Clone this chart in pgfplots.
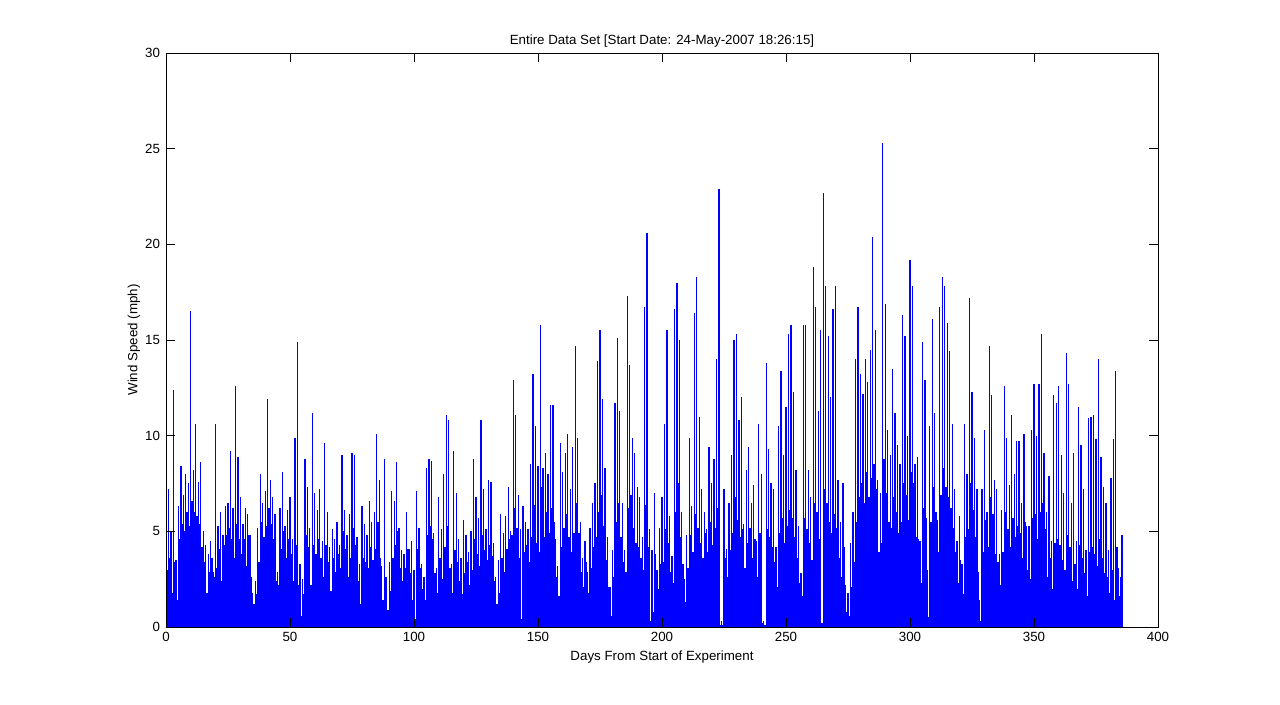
\documentclass[border=0pt]{standalone}
\usepackage{fontspec}
\setmainfont{Liberation Sans}
\usepackage{pgfplots}
\pgfplotsset{compat=1.18}
\begin{document}
\begin{tikzpicture}
\path[use as bounding box] (-124.5pt,-58.5pt) rectangle (835.5pt,470.25pt);
\begin{axis}[
 at={(0pt,0pt)}, anchor=south west,
 scale only axis, width=744pt, height=430.5pt,
 xmin=0, xmax=400, ymin=0, ymax=30,
 xtick={0,50,...,400}, ytick={0,5,...,30},
 tick align=inside, major tick length=7pt,
 tick style={black, line width=0.5pt},
 axis line style={black, line width=0.5pt},
 axis on top,
 font=\fontsize{10pt}{12pt}\selectfont,
 /pgf/number format/assume math mode=true,
 title={Entire Data Set [Start Date: 24-May-2007 18:26:15]},
 xlabel={Days From Start of Experiment},
 ylabel={Wind Speed (mph)},
 title style={at={(axis description cs:0.5,1)}, anchor=base, yshift=0pt},
 xlabel style={at={(axis description cs:0.5,0)}, anchor=base, yshift=-25.5pt},
 ylabel style={at={(axis description cs:-0.0289,0.5)}, anchor=base},
 yticklabel style={xshift=-1pt},
]
\addplot[ycomb, color={rgb,1:red,0;green,0;blue,1}, line width=0.95pt, mark=none]
 table[row sep=\\, header=false, x expr=\coordindex*0.5, y index=0]{
4.2\\3.0\\7.2\\3.6\\5.0\\1.8\\12.4\\3.4\\3.5\\1.4\\6.3\\4.6\\8.4\\5.4\\6.9\\5.0\\8.0\\6.0\\7.5\\5.3\\
16.5\\6.6\\8.2\\6.0\\10.6\\5.8\\7.6\\5.4\\8.6\\4.2\\5.0\\3.4\\4.3\\1.8\\3.8\\2.9\\4.5\\3.6\\2.9\\2.6\\
10.6\\3.1\\5.3\\4.1\\6.0\\2.4\\4.8\\4.3\\6.3\\4.8\\6.5\\5.2\\9.2\\4.6\\6.2\\3.6\\12.6\\5.4\\8.9\\4.6\\
6.8\\3.8\\5.4\\4.6\\6.2\\3.2\\5.9\\4.8\\4.8\\2.6\\1.8\\1.2\\2.4\\1.7\\5.2\\3.4\\8.0\\5.5\\6.5\\4.7\\
7.1\\5.3\\11.9\\6.2\\7.7\\5.4\\6.8\\4.6\\5.9\\2.4\\2.9\\2.2\\6.2\\4.1\\8.1\\5.0\\5.3\\3.6\\6.1\\4.6\\
6.8\\3.8\\4.6\\2.4\\9.9\\4.3\\14.9\\2.2\\3.3\\0.6\\2.5\\1.7\\8.8\\4.8\\7.3\\4.2\\5.2\\2.2\\11.2\\4.3\\
7.0\\3.8\\6.1\\4.6\\7.2\\3.6\\4.5\\2.6\\9.6\\4.3\\6.0\\3.4\\4.2\\1.9\\5.1\\3.6\\4.6\\2.9\\5.5\\3.8\\
4.3\\3.1\\9.0\\5.0\\6.1\\4.1\\4.8\\2.6\\5.9\\3.6\\9.1\\5.2\\9.0\\4.3\\4.7\\2.4\\3.3\\1.2\\6.3\\3.6\\
5.4\\3.4\\4.8\\3.1\\6.6\\4.2\\5.5\\3.5\\6.0\\4.1\\10.1\\5.5\\7.7\\3.6\\3.2\\1.4\\8.8\\2.6\\2.6\\0.9\\
3.4\\1.9\\7.1\\3.6\\6.6\\4.3\\8.6\\5.0\\5.2\\3.1\\4.0\\2.4\\3.8\\3.1\\6.0\\4.1\\4.1\\2.8\\4.5\\1.4\\
3.0\\0.4\\7.1\\4.1\\5.2\\3.1\\3.3\\2.0\\2.6\\1.4\\8.3\\4.8\\8.8\\5.3\\8.7\\4.6\\4.9\\2.8\\3.1\\1.8\\
6.8\\3.6\\5.1\\2.5\\8.0\\4.2\\11.1\\5.3\\10.8\\3.1\\3.3\\1.8\\9.2\\4.0\\7.0\\3.4\\4.6\\2.4\\3.6\\1.7\\
5.6\\2.8\\4.8\\3.4\\3.9\\2.2\\5.0\\3.0\\8.8\\4.6\\6.8\\3.8\\5.7\\3.2\\10.8\\4.8\\7.2\\4.0\\5.1\\3.5\\
7.7\\4.3\\7.6\\3.7\\4.4\\2.4\\2.6\\1.2\\3.5\\1.8\\5.9\\3.6\\4.9\\2.9\\5.8\\4.1\\7.3\\4.6\\5.0\\4.8\\
12.9\\6.2\\11.1\\5.2\\6.9\\3.6\\5.1\\0.4\\6.3\\3.9\\5.5\\4.3\\5.1\\3.4\\8.5\\4.7\\13.2\\6.4\\10.5\\4.4\\
8.4\\3.9\\15.8\\7.3\\8.3\\4.7\\9.1\\6.0\\8.0\\4.9\\11.6\\6.2\\11.6\\5.5\\4.6\\2.6\\3.2\\1.6\\9.6\\4.2\\
8.1\\5.2\\9.1\\5.9\\10.1\\4.7\\7.2\\3.9\\9.4\\4.9\\14.7\\6.5\\9.9\\4.9\\5.5\\2.9\\3.6\\2.1\\4.5\\3.4\\
2.9\\1.8\\5.2\\3.1\\6.5\\4.2\\7.5\\4.7\\13.9\\6.0\\15.5\\6.9\\11.9\\5.3\\8.3\\3.5\\4.7\\2.1\\2.1\\0.6\\
4.0\\2.6\\11.7\\5.5\\15.1\\6.5\\11.3\\4.7\\6.5\\3.4\\4.0\\2.9\\17.3\\6.2\\13.7\\6.9\\9.9\\5.2\\9.1\\4.4\\
7.3\\4.2\\6.8\\3.6\\4.7\\3.0\\16.7\\6.4\\20.6\\4.2\\5.1\\0.3\\4.0\\0.8\\7.0\\3.8\\3.0\\2.0\\5.2\\3.3\\
6.8\\3.4\\10.6\\5.1\\15.5\\4.4\\5.8\\2.9\\3.7\\2.3\\16.6\\6.0\\18.0\\7.5\\15.0\\4.7\\6.0\\3.3\\2.5\\1.3\\
4.8\\3.1\\9.9\\4.8\\6.3\\3.9\\16.4\\5.9\\18.3\\5.2\\11.0\\4.4\\7.2\\3.6\\6.0\\4.9\\5.1\\3.9\\9.4\\5.5\\
7.5\\4.3\\8.8\\5.2\\14.0\\6.2\\22.9\\0.1\\0.3\\0.1\\7.2\\3.6\\4.1\\2.6\\6.5\\4.0\\9.0\\4.9\\15.0\\6.8\\
15.3\\5.6\\10.8\\4.7\\12.0\\5.1\\5.4\\3.1\\8.2\\4.4\\9.4\\5.2\\6.5\\3.6\\7.4\\4.6\\4.5\\2.6\\10.6\\4.9\\
8.0\\0.2\\0.3\\0.1\\13.8\\5.1\\9.3\\4.7\\7.5\\4.2\\7.2\\3.4\\4.2\\2.1\\10.5\\4.9\\13.4\\5.7\\9.0\\4.4\\
11.5\\5.3\\15.3\\6.1\\15.8\\5.7\\12.3\\4.7\\8.2\\3.6\\5.3\\2.3\\2.8\\1.6\\15.8\\5.7\\15.8\\5.1\\8.2\\4.4\\
6.8\\3.5\\18.8\\6.5\\16.7\\6.0\\11.3\\4.6\\15.5\\0.2\\22.7\\7.2\\17.8\\6.5\\15.2\\5.5\\12.0\\4.9\\16.6\\5.9\\
17.8\\5.2\\7.7\\3.6\\5.5\\2.6\\7.5\\4.2\\2.2\\0.8\\1.8\\0.6\\4.4\\2.1\\6.0\\3.4\\14.0\\5.5\\16.7\\6.8\\
13.2\\7.5\\12.2\\6.5\\14.0\\8.1\\12.8\\6.8\\14.5\\7.8\\20.4\\8.5\\15.5\\7.2\\7.7\\3.9\\7.0\\4.4\\25.3\\8.8\\
16.9\\7.0\\10.3\\5.5\\9.0\\5.2\\13.5\\6.8\\11.2\\6.0\\9.5\\4.9\\8.5\\5.5\\16.3\\7.5\\15.2\\6.9\\10.0\\5.6\\
19.2\\8.1\\17.8\\7.5\\8.5\\4.7\\8.9\\4.6\\4.5\\2.3\\14.9\\6.2\\12.9\\5.7\\3.0\\0.5\\10.5\\5.5\\16.1\\7.3\\
11.2\\6.0\\5.6\\3.9\\16.7\\6.9\\18.3\\8.3\\17.8\\7.3\\15.9\\6.8\\14.4\\6.2\\10.6\\5.2\\7.2\\3.9\\4.5\\2.3\\
5.8\\3.5\\3.3\\1.7\\10.6\\4.7\\8.0\\5.1\\17.2\\7.5\\12.3\\6.1\\9.9\\4.7\\7.2\\2.9\\1.4\\0.3\\7.2\\3.9\\
10.3\\5.6\\6.0\\4.2\\14.7\\6.8\\12.1\\5.9\\7.7\\3.8\\7.2\\3.4\\3.8\\2.2\\6.1\\3.9\\12.6\\6.0\\9.9\\5.1\\
7.4\\4.2\\11.1\\5.7\\8.0\\4.7\\9.7\\5.3\\9.7\\4.9\\6.5\\3.6\\10.1\\5.5\\5.3\\3.0\\5.3\\2.5\\10.3\\5.7\\
12.7\\5.9\\10.0\\4.6\\12.7\\6.0\\15.3\\6.5\\9.1\\5.1\\6.0\\2.6\\7.9\\3.6\\4.5\\2.0\\12.1\\4.4\\11.7\\4.6\\
12.6\\4.3\\9.0\\3.5\\7.0\\3.0\\14.3\\4.8\\12.7\\4.2\\6.5\\2.4\\9.1\\3.3\\4.5\\2.0\\11.5\\4.3\\9.5\\3.6\\
7.2\\2.8\\4.0\\1.6\\10.9\\3.9\\11.0\\4.2\\11.1\\3.8\\9.8\\3.2\\14.0\\4.6\\8.9\\3.6\\7.3\\2.8\\6.5\\2.6\\
4.0\\1.8\\7.8\\3.0\\9.8\\1.4\\13.4\\4.2\\3.1\\1.6\\2.6\\4.8\\
};
\end{axis}
\end{tikzpicture}
\end{document}
